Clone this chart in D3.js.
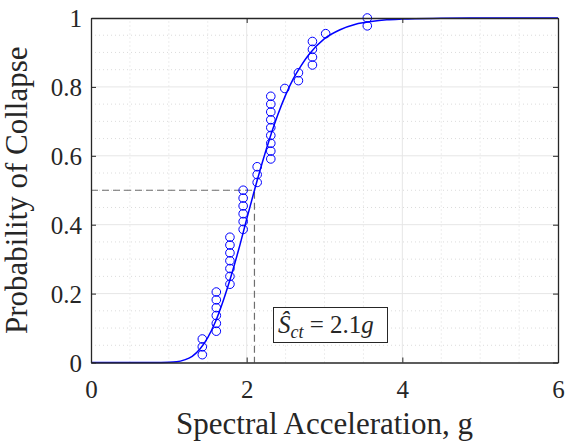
<!DOCTYPE html>
<html>
<head>
<meta charset="utf-8">
<script src="https://cdn.jsdelivr.net/npm/d3@7.9.0/dist/d3.min.js"></script>
<style>
  body { margin: 0; background: #fff; }
  svg text { font-family: "Liberation Serif", "Times New Roman", serif; fill: #262626; }
</style>
</head>
<body>
<svg id="chart" width="566" height="444"></svg>
<script>
// Collapse Sa of each record (sorted)
const collapseSa = [
  1.43, 1.43, 1.43,
  1.61, 1.61, 1.61, 1.61, 1.61, 1.61,
  1.785, 1.785, 1.785, 1.785, 1.785, 1.785, 1.785,
  1.955, 1.955, 1.955, 1.955, 1.955, 1.955,
  2.135, 2.135, 2.135,
  2.31, 2.31, 2.31, 2.31, 2.31, 2.31, 2.31, 2.31, 2.31,
  2.49,
  2.665, 2.665,
  2.845, 2.845, 2.845, 2.845,
  3.015,
  3.55, 3.55
];

// Fitted fragility curve, read at several Sa values
const curveSa   = [0, 0.8, 1.0, 1.1, 1.2, 1.3, 1.4, 1.5, 1.6, 1.7, 1.8, 1.9, 2.0, 2.1, 2.2, 2.3, 2.4, 2.5, 2.6, 2.7, 2.8, 3.0, 3.2, 3.4, 3.6, 3.8, 4.0, 4.5, 5.0, 6.0];
const curveProb = [0, 0, 0.0006, 0.002, 0.0075, 0.018, 0.039, 0.072, 0.119, 0.18, 0.251, 0.33, 0.416, 0.5, 0.58, 0.653, 0.719, 0.776, 0.824, 0.862, 0.894, 0.94, 0.966, 0.982, 0.990, 0.995, 0.997, 0.999, 1, 1];

const medianSa = 2.1;
const xTicks = [0, 2, 4, 6];
const yTicks = [0, 0.2, 0.4, 0.6, 0.8, 1];

const svg = d3.select('#chart');
const margin = { left: 91, right: 8, top: 18, bottom: 81.5 };
const W = 566, H = 444;
const serif = '"Liberation Serif", "Times New Roman", serif';

const x = d3.scaleLinear().domain([0, 6]).range([margin.left, W - margin.right]);
const y = d3.scaleLinear().domain([0, 1]).range([H - margin.bottom, margin.top]);

// minor grid (dotted)
const g = svg.append('g');
g.selectAll('.mx').data(d3.range(0.5, 6, 0.5).filter(v => v % 2 !== 0))
  .join('line')
  .attr('x1', d => x(d)).attr('x2', d => x(d))
  .attr('y1', y(0)).attr('y2', y(1))
  .attr('stroke', '#dcdcdc').attr('stroke-dasharray', '1,3');
g.selectAll('.my').data(d3.range(1, 20).map(i => i * 0.05).filter((v, i) => (i + 1) % 4 !== 0))
  .join('line')
  .attr('x1', x(0)).attr('x2', x(6))
  .attr('y1', d => y(d)).attr('y2', d => y(d))
  .attr('stroke', '#dcdcdc').attr('stroke-dasharray', '1,3');

// major grid
g.selectAll('.gx').data(xTicks.slice(1, -1)).join('line')
  .attr('x1', d => x(d)).attr('x2', d => x(d))
  .attr('y1', y(0)).attr('y2', y(1))
  .attr('stroke', '#e6e6e6');
g.selectAll('.gy').data(yTicks.slice(1, -1)).join('line')
  .attr('x1', x(0)).attr('x2', x(6))
  .attr('y1', d => y(d)).attr('y2', d => y(d))
  .attr('stroke', '#e6e6e6');

// dashed median guide
svg.append('path')
  .attr('d', `M${x(0)},${y(0.5)}H${x(medianSa)}V${y(0)}`)
  .attr('fill', 'none')
  .attr('stroke', '#6e6e6e')
  .attr('stroke-width', 1.2)
  .attr('stroke-dasharray', '7,4');

// fitted curve
const line = d3.line().x(d => x(d[0])).y(d => y(d[1])).curve(d3.curveMonotoneX);
svg.append('path')
  .datum(d3.zip(curveSa, curveProb))
  .attr('d', line)
  .attr('fill', 'none')
  .attr('stroke', '#0000ff')
  .attr('stroke-width', 1.5);

// empirical points
svg.selectAll('circle').data(collapseSa).join('circle')
  .attr('cx', d => x(d))
  .attr('cy', (d, i) => y((i + 1) / collapseSa.length))
  .attr('r', 4.3)
  .attr('fill', 'none')
  .attr('stroke', '#0000ff')
  .attr('stroke-width', 1);

// axes with inward ticks on all four sides
const tl = 5;
const axB = svg.append('g').attr('transform', `translate(0,${y(0)})`)
  .call(d3.axisBottom(x).tickValues(xTicks).tickSizeInner(-tl).tickSizeOuter(0).tickPadding(18).tickFormat(d3.format('d')));
const axT = svg.append('g').attr('transform', `translate(0,${y(1)})`)
  .call(d3.axisTop(x).tickValues(xTicks).tickSizeInner(-tl).tickSizeOuter(0).tickFormat(''));
const axL = svg.append('g').attr('transform', `translate(${x(0)},0)`)
  .call(d3.axisLeft(y).tickValues(yTicks).tickSizeInner(-tl).tickSizeOuter(0).tickPadding(9).tickFormat(d => d === 0 || d === 1 ? d : d3.format('.1f')(d)));
const axR = svg.append('g').attr('transform', `translate(${x(6)},0)`)
  .call(d3.axisRight(y).tickValues(yTicks).tickSizeInner(-tl).tickSizeOuter(0).tickFormat(''));

[axB, axT, axL, axR].forEach(a => {
  a.attr('font-family', serif).attr('font-size', 25);
  a.select('.domain').attr('stroke', '#262626').attr('stroke-width', 1.3);
  a.selectAll('.tick line').attr('stroke', '#262626');
  a.selectAll('text').attr('fill', '#262626');
});
axB.selectAll('text').attr('dy', '0.71em');
axL.selectAll('text').attr('dy', '0.35em');

// axis titles
svg.append('text')
  .attr('x', x(3)).attr('y', 434)
  .attr('text-anchor', 'middle')
  .attr('font-family', serif)
  .attr('font-size', 31)
  .text('Spectral Acceleration, g');
svg.append('text')
  .attr('transform', `translate(27,${(y(0) + y(1)) / 2}) rotate(-90)`)
  .attr('text-anchor', 'middle')
  .attr('font-family', serif)
  .attr('font-size', 31)
  .text('Probability of Collapse');

// annotation box
const box = svg.append('g');
box.append('rect')
  .attr('x', 273.5).attr('y', 307.5).attr('width', 114).attr('height', 35)
  .attr('fill', '#fff').attr('stroke', '#262626').attr('stroke-width', 1);
const t = box.append('text').attr('x', 278).attr('y', 333).attr('font-size', 25).attr('fill', '#000')
  .attr('font-family', serif);
t.append('tspan').attr('font-style', 'italic').text('Ŝ');
t.append('tspan').attr('font-style', 'italic').attr('font-size', 18).attr('dy', 5).text('ct');
t.append('tspan').attr('dy', -5).text(' = 2.1');
t.append('tspan').attr('font-style', 'italic').text('g');
</script>
</body>
</html>
